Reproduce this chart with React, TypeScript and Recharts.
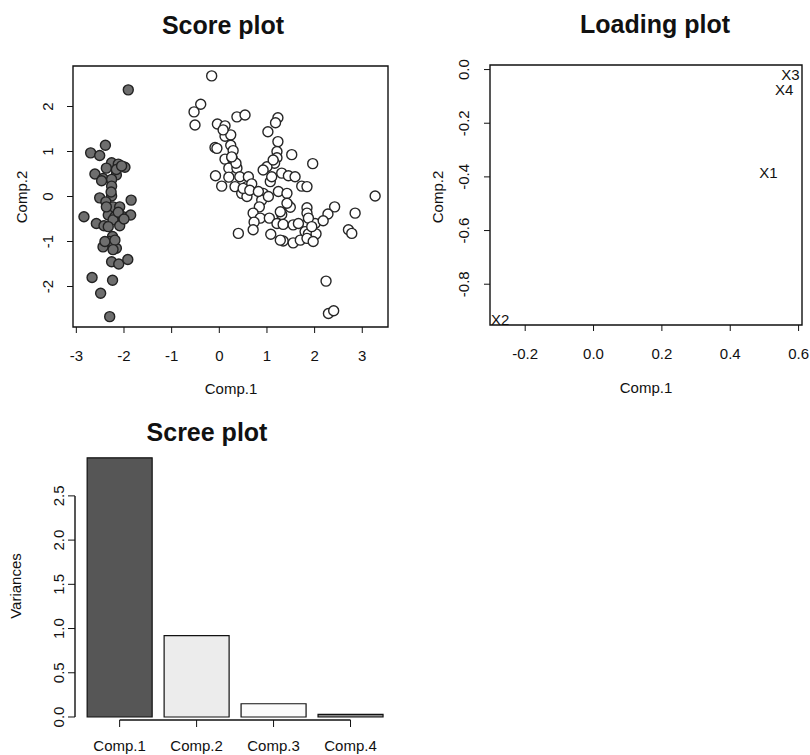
import React from "react";
import {
  ScatterChart,
  Scatter,
  BarChart,
  Bar,
  XAxis,
  YAxis,
  ReferenceArea,
  ReferenceLine,
  Cell,
} from "recharts";

// score plot: first group (filled points)
const setosaComp1 = [
  -1.91, -2.39, -2.7, -2.51, -2.26, -2.12, -1.98, -2.37, -2.61, -2.44,
  -2.16, -2.26, -2.26, -2.26, -2.51, -2.38, -1.85, -2.23, -2.09, -2.84,
  -2.33, -2.19, -2.02, -1.86, -2.23, -2.58, -2.42, -2.09, -2.24, -2.3,
  -2.44, -2.16, -2.26, -2.11, -1.92, -2.67, -2.24, -2.49, -2.3, -2.16,
  -2.37, -2.12, -2.47, -2.05, -2.27, -2.4, -2.0, -2.19, -2.33, -2.23,
];
const setosaComp2 = [
  2.37, 1.14, 0.97, 0.91, 0.75, 0.72, 0.65, 0.63, 0.5, 0.4,
  0.48, 0.38, 0.23, 0.01, -0.03, -0.12, -0.08, -0.23, -0.23, -0.45,
  -0.41, -0.45, -0.45, -0.41, -0.52, -0.6, -0.65, -0.65, -0.89, -1.0,
  -1.12, -1.15, -1.45, -1.5, -1.4, -1.8, -1.86, -2.15, -2.67, 0.6,
  -0.23, -0.35, 0.35, 0.68, 0.1, -1.0, -0.5, -0.97, -0.67, -1.18,
];

// score plot: other groups (open points)
const otherComp1 = [
  -0.16, -0.39, -0.53, -0.51, -0.04, 0.12, 0.37, 0.54, 1.23, 1.18,
  1.02, 0.12, 0.24, 1.23, -0.09, 0.24, 0.29, 1.21, 1.21, 1.52,
  0.12, 0.27, 1.16, 1.96, 0.2, 1.0, 0.92, 0.37, -0.08, 0.2,
  0.43, 0.61, 1.31, 1.45, 1.59, 1.07, 0.05, 0.33, 0.58, 0.68,
  1.73, 1.84, 0.47, 0.58, 1.24, 1.42, 0.92, 3.27, 0.89, 1.03,
  0.84, 1.45, 1.49, 1.84, 2.42, 0.71, 0.86, 1.05, 1.31, 1.84,
  2.28, 2.85, 0.73, 1.21, 1.34, 1.55, 1.84, 2.01, 2.18, 0.71,
  0.4, 1.08, 1.8, 1.87, 2.03, 2.71, 2.78, 1.34, 1.55, 1.7,
  1.84, 1.97, 2.24, 2.29, 2.4, 0.35, 0.5, 0.64, 1.28, 1.87,
  1.94, 1.66, 1.1, 1.13, 0.08, -0.05, 0.26, 1.28, 1.42, 0.82,
];
const otherComp2 = [
  2.68, 2.05, 1.88, 1.59, 1.61, 1.57, 1.77, 1.81, 1.75, 1.64,
  1.44, 1.34, 1.37, 1.22, 1.09, 1.14, 1.02, 1.0, 0.86, 0.93,
  0.83, 0.85, 0.74, 0.73, 0.63, 0.66, 0.59, 0.63, 0.46, 0.43,
  0.44, 0.44, 0.52, 0.46, 0.44, 0.33, 0.23, 0.22, 0.22, 0.28,
  0.23, 0.22, 0.07, 0.0, 0.11, 0.07, 0.07, 0.01, -0.08, 0.0,
  -0.23, -0.2, -0.24, -0.25, -0.23, -0.37, -0.48, -0.48, -0.4, -0.37,
  -0.39, -0.37, -0.57, -0.6, -0.62, -0.63, -0.6, -0.6, -0.54, -0.74,
  -0.82, -0.84, -0.78, -0.83, -0.83, -0.74, -0.82, -0.99, -1.03, -0.97,
  -0.93, -1.0, -1.88, -2.6, -2.54, 0.74, 0.18, 0.14, -0.34, -0.48,
  -0.67, -0.6, 0.44, 0.81, 1.48, 1.07, 0.88, -0.97, -0.15, 0.11,
];

const scoreTicksX = [-3, -2, -1, 0, 1, 2, 3];
const scoreTicksY = [-2, -1, 0, 1, 2];

// loading plot
const loadingNames = ["X1", "X2", "X3", "X4"];
const loadingComp1 = [0.512, -0.273, 0.576, 0.558];
const loadingComp2 = [-0.384, -0.93, -0.02, -0.074];
const loadingTicksX = [-0.2, 0, 0.2, 0.4, 0.6];
const loadingTicksY = [-0.8, -0.6, -0.4, -0.2, 0];

// scree plot
const screeLabels = ["Comp.1", "Comp.2", "Comp.3", "Comp.4"];
const screeVariances = [2.93, 0.92, 0.15, 0.03];
const screeTicksY = [0, 0.5, 1, 1.5, 2, 2.5];
const screeFills = ["#565656", "#ececec", "#fbfbfb", "#8a8a8a"];

const FONT = "'Liberation Sans', Arial, sans-serif";
const INK = "#111";
const TXT = 15;

const setosa = setosaComp1.map((x, i) => ({ x, y: setosaComp2[i] }));
const others = otherComp1.map((x, i) => ({ x, y: otherComp2[i] }));
const loadings = loadingNames.map((name, i) => ({
  name,
  x: loadingComp1[i],
  y: loadingComp2[i],
}));
const scree = screeLabels.map((name, i) => ({
  pos: i + 1,
  name,
  value: screeVariances[i],
}));

const fmtInt = (v: number) => String(v);
const fmt1 = (v: number) => v.toFixed(1);

const makeXTick = (fmt: (v: number) => string, dy: number) => (props: any) => {
  const { x, y, payload } = props;
  return (
    <text
      x={x}
      y={y + dy}
      textAnchor="middle"
      dominantBaseline="central"
      fontFamily={FONT}
      fontSize={TXT}
      fill={INK}
    >
      {fmt(payload.value)}
    </text>
  );
};

const makeYTick = (fmt: (v: number) => string, dx: number) => (props: any) => {
  const { x, y, payload } = props;
  const cx = x + dx;
  return (
    <text
      x={cx}
      y={y}
      transform={`rotate(-90, ${cx}, ${y})`}
      textAnchor="middle"
      dominantBaseline="central"
      fontFamily={FONT}
      fontSize={TXT}
      fill={INK}
    >
      {fmt(payload.value)}
    </text>
  );
};

const filledDot = (p: any) => (
  <circle cx={p.cx} cy={p.cy} r={5} fill="#6e6e6e" stroke="#222" strokeWidth={1.4} />
);
const openDot = (p: any) => (
  <circle cx={p.cx} cy={p.cy} r={5} fill="#ffffff" stroke="#262626" strokeWidth={1.4} />
);
const labelMark = (p: any) => (
  <text
    x={p.cx}
    y={p.cy}
    textAnchor="middle"
    dominantBaseline="central"
    fontFamily={FONT}
    fontSize={TXT}
    fill={INK}
  >
    {p.payload.name}
  </text>
);

const screeXLabel = (v: number) => screeLabels[v - 1] ?? "";

const App = () => {
  const sx: [number, number] = [-3.07, 3.54];
  const sy: [number, number] = [-2.9, 2.9];
  const lx: [number, number] = [-0.303, 0.61];
  const ly: [number, number] = [-0.952, 0.017];
  const bx: [number, number] = [0.42, 4.5];
  const by: [number, number] = [-0.034, 3.03];

  return (
    <div
      style={{
        position: "absolute",
        left: 0,
        top: 0,
        width: 810,
        height: 755,
        background: "#fff",
        overflow: "hidden",
      }}
    >
      <div style={{ position: "absolute", left: 0, top: 0 }}>
        <ScatterChart
          width={400}
          height={400}
          margin={{ top: 66, right: 12, bottom: 43, left: 33 }}
        >
          <XAxis
            type="number"
            dataKey="x"
            domain={sx}
            allowDataOverflow
            ticks={scoreTicksX}
            interval={0}
            height={30}
            axisLine={false}
            tickSize={6}
            tickLine={{ stroke: INK }}
            tick={makeXTick(fmtInt, 20)}
          />
          <YAxis
            type="number"
            dataKey="y"
            domain={sy}
            allowDataOverflow
            ticks={scoreTicksY}
            interval={0}
            width={40}
            axisLine={false}
            tickSize={6}
            tickLine={{ stroke: INK }}
            tick={makeYTick(fmtInt, -18)}
          />
          <ReferenceArea
            x1={sx[0]}
            x2={sx[1]}
            y1={sy[0]}
            y2={sy[1]}
            fill="none"
            stroke={INK}
            strokeWidth={1.4}
          />
          <Scatter data={others} shape={openDot} isAnimationActive={false} />
          <Scatter data={setosa} shape={filledDot} isAnimationActive={false} />
        </ScatterChart>
      </div>

      <div style={{ position: "absolute", left: 400, top: 0 }}>
        <ScatterChart
          width={410}
          height={400}
          margin={{ top: 65, right: 8, bottom: 45, left: 50 }}
        >
          <XAxis
            type="number"
            dataKey="x"
            domain={lx}
            allowDataOverflow
            ticks={loadingTicksX}
            interval={0}
            height={30}
            axisLine={false}
            tickSize={6}
            tickLine={{ stroke: INK }}
            tick={makeXTick(fmt1, 20)}
          />
          <YAxis
            type="number"
            dataKey="y"
            domain={ly}
            allowDataOverflow
            ticks={loadingTicksY}
            interval={0}
            width={40}
            axisLine={false}
            tickSize={6}
            tickLine={{ stroke: INK }}
            tick={makeYTick(fmt1, -18)}
          />
          <ReferenceArea
            x1={lx[0]}
            x2={lx[1]}
            y1={ly[0]}
            y2={ly[1]}
            fill="none"
            stroke={INK}
            strokeWidth={1.4}
          />
          <Scatter data={loadings} shape={labelMark} isAnimationActive={false} />
        </ScatterChart>
      </div>

      <div style={{ position: "absolute", left: 0, top: 400 }}>
        <BarChart
          width={400}
          height={355}
          data={scree}
          margin={{ top: 49, right: 11, bottom: 5, left: 35 }}
        >
          <XAxis
            type="number"
            dataKey="pos"
            domain={bx}
            allowDataOverflow
            ticks={[1, 2, 3, 4]}
            interval={0}
            height={30}
            axisLine={false}
            tickSize={7}
            tickLine={{ stroke: INK }}
            tick={makeXTick(screeXLabel, 16)}
          />
          <YAxis
            type="number"
            domain={by}
            allowDataOverflow
            ticks={screeTicksY}
            interval={0}
            width={40}
            axisLine={false}
            tickSize={7}
            tickLine={{ stroke: INK }}
            tick={makeYTick(fmt1, -7)}
          />
          <ReferenceLine
            segment={[
              { x: 1, y: by[0] },
              { x: 4, y: by[0] },
            ]}
            stroke={INK}
            strokeWidth={1.4}
          />
          <ReferenceLine
            segment={[
              { x: bx[0], y: 0 },
              { x: bx[0], y: 2.5 },
            ]}
            stroke={INK}
            strokeWidth={1.4}
          />
          <Bar dataKey="value" barSize={65} stroke={INK} strokeWidth={1.2} isAnimationActive={false}>
            {scree.map((d, i) => (
              <Cell key={d.name} fill={screeFills[i]} />
            ))}
          </Bar>
        </BarChart>
      </div>

      <svg
        width={810}
        height={755}
        style={{ position: "absolute", left: 0, top: 0, pointerEvents: "none" }}
        fontFamily={FONT}
        fill={INK}
      >
        <text x={223} y={25} textAnchor="middle" dominantBaseline="central" fontSize={25} fontWeight="bold">
          Score plot
        </text>
        <text x={655} y={24} textAnchor="middle" dominantBaseline="central" fontSize={25} fontWeight="bold">
          Loading plot
        </text>
        <text x={207} y={432} textAnchor="middle" dominantBaseline="central" fontSize={25} fontWeight="bold">
          Scree plot
        </text>
        <text x={231} y={388} textAnchor="middle" dominantBaseline="central" fontSize={TXT}>
          Comp.1
        </text>
        <text x={646} y={387} textAnchor="middle" dominantBaseline="central" fontSize={TXT}>
          Comp.1
        </text>
        <text x={21} y={197} transform="rotate(-90, 21, 197)" textAnchor="middle" dominantBaseline="central" fontSize={TXT}>
          Comp.2
        </text>
        <text x={437} y={197} transform="rotate(-90, 437, 197)" textAnchor="middle" dominantBaseline="central" fontSize={TXT}>
          Comp.2
        </text>
        <text x={15} y={586} transform="rotate(-90, 15, 586)" textAnchor="middle" dominantBaseline="central" fontSize={TXT}>
          Variances
        </text>
      </svg>
    </div>
  );
};

export default App;
